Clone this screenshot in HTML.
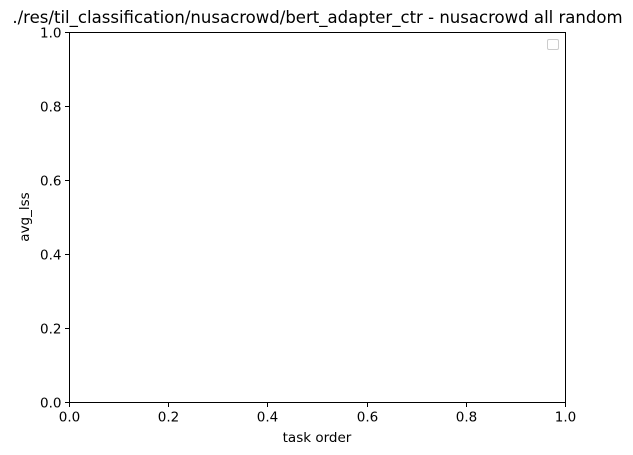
<!DOCTYPE html>
<html><head><meta charset="utf-8"><style>
body{margin:0;background:#fff;}
svg{display:block;font-family:"DejaVu Sans","Liberation Sans",sans-serif;}
</style></head><body>
<svg id="chart" width="633" height="455">
<rect width="633" height="455" fill="#fff"/>
<text x="317.5" y="23" text-anchor="middle" font-size="16.55" fill="#000">./res/til_classification/nusacrowd/bert_adapter_ctr - nusacrowd all random</text>
<g id="axes"></g>
<rect x="547.5" y="39.5" width="11" height="10" rx="1.5" fill="#fff" stroke="#ccc"/>
<text x="317" y="442" text-anchor="middle" font-size="13.5">task order</text>
<text transform="translate(29,217) rotate(-90)" text-anchor="middle" font-size="13.5">avg_lss</text>
</svg>
<script>
const xTicks=[0.0,0.2,0.4,0.6,0.8,1.0];
const yTicks=[0.0,0.2,0.4,0.6,0.8,1.0];
const xTickLabels=["0.0","0.2","0.4","0.6","0.8","1.0"];
const yTickLabels=["0.0","0.2","0.4","0.6","0.8","1.0"];
const L=69.5,R=565.5,T=32.5,B=402.5;
const xs=v=>Math.round(L+(R-L)*v-0.5)+0.5, ys=v=>Math.round(B-(B-T)*v-0.5)+0.5;
const g=document.getElementById('axes');
const ns='http://www.w3.org/2000/svg';
function mk(t,a){const e=document.createElementNS(ns,t);for(const k in a)e.setAttribute(k,a[k]);g.appendChild(e);return e;}
xTicks.forEach((v,i)=>{
 const l=mk('line',{x1:xs(v),x2:xs(v),y1:B,y2:B+4.5,stroke:'#000','stroke-width':1});
 
 
 const t=mk('text',{x:xs(v),y:B+19,'text-anchor':'middle','font-size':13.5});
 t.textContent=xTickLabels[i];
 
 
});
yTicks.forEach((v,i)=>{
 const l=mk('line',{x1:L-4.5,x2:L,y1:ys(v),y2:ys(v),stroke:'#000','stroke-width':1});
 
 
 const t=mk('text',{x:L-8,y:ys(v)+5,'text-anchor':'end','font-size':13.5});
 t.textContent=yTickLabels[i];
 
 
});
const f=mk('rect',{x:L,y:T,width:R-L,height:B-T,fill:'none',stroke:'#000','stroke-width':1});


</script>
</body></html>
